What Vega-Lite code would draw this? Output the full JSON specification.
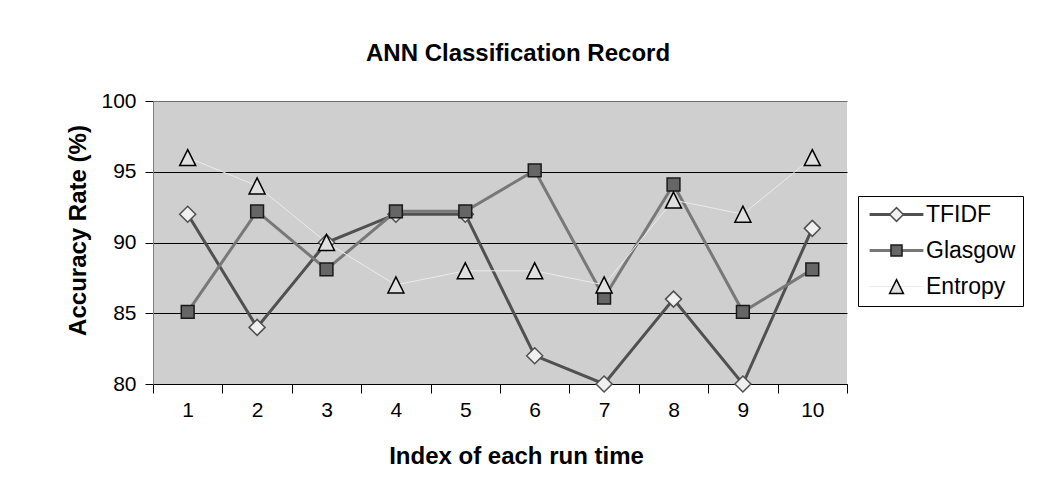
{
  "$schema": "https://vega.github.io/schema/vega-lite/v6.json",
  "width": 694,
  "height": 283,
  "autosize": {"type": "none"},
  "padding": {"left": 153, "top": 101, "right": 209, "bottom": 104},
  "background": "white",
  "config": {
    "font": "Liberation Sans",
    "view": {"fill": "#cfcfcf", "stroke": null}
  },
  "title": {
    "text": "ANN Classification  Record",
    "font": "Liberation Sans",
    "fontSize": 24,
    "fontWeight": "bold",
    "color": "black",
    "anchor": "middle",
    "frame": "group",
    "baseline": "alphabetic",
    "offset": 5,
    "dx": 18
  },
  "data": {
    "values": [
      {"run": 1, "series": "TFIDF", "value": 92},
      {"run": 2, "series": "TFIDF", "value": 84},
      {"run": 3, "series": "TFIDF", "value": 90},
      {"run": 4, "series": "TFIDF", "value": 92},
      {"run": 5, "series": "TFIDF", "value": 92},
      {"run": 6, "series": "TFIDF", "value": 82},
      {"run": 7, "series": "TFIDF", "value": 80},
      {"run": 8, "series": "TFIDF", "value": 86},
      {"run": 9, "series": "TFIDF", "value": 80},
      {"run": 10, "series": "TFIDF", "value": 91},
      {"run": 1, "series": "Glasgow", "value": 85.1},
      {"run": 2, "series": "Glasgow", "value": 92.2},
      {"run": 3, "series": "Glasgow", "value": 88.1},
      {"run": 4, "series": "Glasgow", "value": 92.2},
      {"run": 5, "series": "Glasgow", "value": 92.2},
      {"run": 6, "series": "Glasgow", "value": 95.1},
      {"run": 7, "series": "Glasgow", "value": 86.1},
      {"run": 8, "series": "Glasgow", "value": 94.1},
      {"run": 9, "series": "Glasgow", "value": 85.1},
      {"run": 10, "series": "Glasgow", "value": 88.1},
      {"run": 1, "series": "Entropy", "value": 96},
      {"run": 2, "series": "Entropy", "value": 94},
      {"run": 3, "series": "Entropy", "value": 90},
      {"run": 4, "series": "Entropy", "value": 87},
      {"run": 5, "series": "Entropy", "value": 88},
      {"run": 6, "series": "Entropy", "value": 88},
      {"run": 7, "series": "Entropy", "value": 87},
      {"run": 8, "series": "Entropy", "value": 93},
      {"run": 9, "series": "Entropy", "value": 92},
      {"run": 10, "series": "Entropy", "value": 96}
    ]
  },
  "layer": [
    {
      "mark": {"type": "line"},
      "encoding": {
        "x": {
          "field": "run",
          "type": "ordinal",
          "scale": {"paddingInner": 0, "paddingOuter": 0},
          "title": "Index of each run time",
          "axis": {
            "tickBand": "extent",
            "labelAngle": 0,
            "domainColor": "black",
            "tickColor": "black",
            "tickSize": 9,
            "labelFontSize": 21,
            "labelColor": "black",
            "labelPadding": 6,
            "grid": false,
            "titleFontSize": 24,
            "titleFontWeight": "bold",
            "titleColor": "black",
            "titleBaseline": "alphabetic",
            "titleX": 363,
            "titleY": 79
          }
        },
        "y": {
          "field": "value",
          "type": "quantitative",
          "scale": {"domain": [80, 100], "nice": false, "zero": false},
          "title": "Accuracy  Rate (%)",
          "axis": {
            "values": [80, 85, 90, 95, 100],
            "domainColor": "#808080",
            "tickColor": "black",
            "tickSize": 8,
            "labelFontSize": 21,
            "labelColor": "black",
            "labelPadding": 9,
            "grid": true,
            "gridColor": {"condition": {"test": "datum.value === 100", "value": "#707070"}, "value": "black"},
            "gridWidth": 1,
            "titleFontSize": 24,
            "titleFontWeight": "bold",
            "titleColor": "black",
            "titleBaseline": "alphabetic",
            "titleX": -68,
            "titleY": 129
          }
        },
        "color": {
          "field": "series",
          "type": "nominal",
          "sort": ["TFIDF", "Glasgow", "Entropy"],
          "scale": {"range": ["#505050", "#787878", "#ebebeb"]},
          "legend": {
            "title": null,
            "orient": "none",
            "direction": "vertical",
            "legendX": 705,
            "legendY": 95,
            "padding": 7,
            "symbolType": "M-3.9,0L3.9,0",
            "symbolSize": 190,
            "symbolOffset": 20,
            "labelFontSize": 23,
            "labelOpacity": 0,
            "labelOffset": 18,
            "rowPadding": 12,
            "encode": {
              "symbols": {
                "update": {
                  "strokeWidth": {"signal": "datum.value === 'Entropy' ? 1 : 3"}
                }
              }
            }
          }
        },
        "strokeWidth": {
          "condition": {"test": "datum.series === 'Entropy'", "value": 1},
          "value": 3
        }
      }
    },
    {
      "mark": {"type": "point", "filled": true, "opacity": 1, "strokeWidth": 1.5, "size": 256},
      "encoding": {
        "x": {"field": "run", "type": "ordinal"},
        "y": {"field": "value", "type": "quantitative"},
        "shape": {
          "field": "series",
          "type": "nominal",
          "scale": {
            "domain": ["TFIDF", "Glasgow", "Entropy"],
            "range": ["diamond", "M-0.8,-0.8L0.8,-0.8L0.8,0.8L-0.8,0.8Z", "M0,-1L1,1L-1,1Z"]
          },
          "legend": {
            "title": null,
            "orient": "none",
            "direction": "vertical",
            "legendX": 705,
            "legendY": 95,
            "padding": 7,
            "strokeColor": "black",
            "symbolSize": 190,
            "symbolStrokeWidth": 1.5,
            "symbolOffset": 20,
            "labelFontSize": 23,
            "labelColor": "black",
            "labelOffset": 18,
            "rowPadding": 12
          }
        },
        "fill": {
          "field": "series",
          "type": "nominal",
          "scale": {
            "domain": ["TFIDF", "Glasgow", "Entropy"],
            "range": ["#f0f0f0", "#666666", "#e0e0e0"]
          },
          "legend": {
            "title": null,
            "orient": "none",
            "direction": "vertical",
            "legendX": 705,
            "legendY": 95,
            "padding": 7,
            "strokeColor": "black",
            "symbolSize": 190,
            "symbolStrokeWidth": 1.5,
            "symbolOffset": 20,
            "labelFontSize": 23,
            "labelColor": "black",
            "labelOffset": 18,
            "rowPadding": 12
          }
        },
        "stroke": {
          "field": "series",
          "type": "nominal",
          "scale": {
            "domain": ["TFIDF", "Glasgow", "Entropy"],
            "range": ["#505050", "#1a1a1a", "#000000"]
          },
          "legend": {
            "title": null,
            "orient": "none",
            "direction": "vertical",
            "legendX": 705,
            "legendY": 95,
            "padding": 7,
            "strokeColor": "black",
            "symbolSize": 190,
            "symbolStrokeWidth": 1.5,
            "symbolOffset": 20,
            "labelFontSize": 23,
            "labelColor": "black",
            "labelOffset": 18,
            "rowPadding": 12
          }
        }
      }
    }
  ]
}
